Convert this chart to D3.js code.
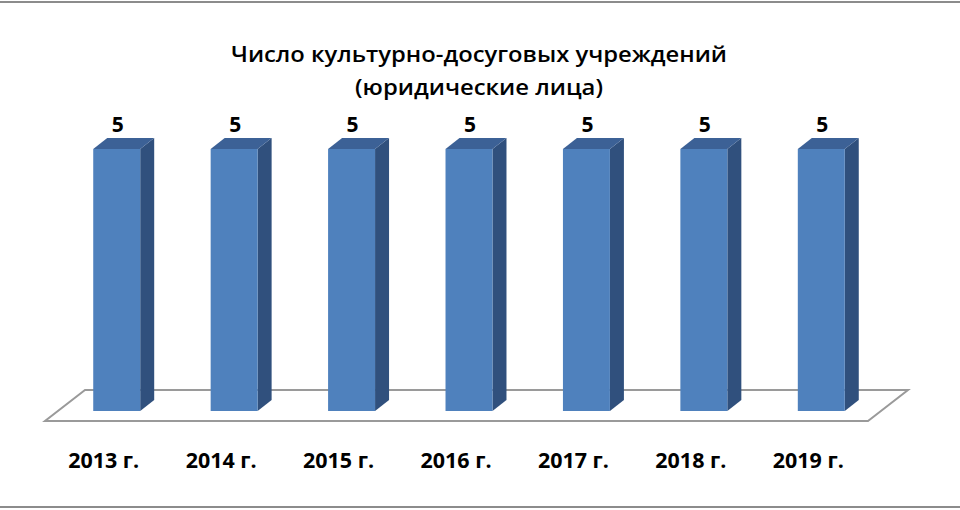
<!DOCTYPE html>
<html><head><meta charset="utf-8">
<script src="https://cdn.jsdelivr.net/npm/d3@7/dist/d3.min.js"></script>
<style>body{margin:0;background:#fff}svg{display:block}</style>
</head><body>
<svg id="c" width="960" height="510"></svg>
<script>
const categories = ["2013 г.","2014 г.","2015 г.","2016 г.","2017 г.","2018 г.","2019 г."];
const values = [5,5,5,5,5,5,5];
const titleLines = ["Число культурно-досуговых учреждений","(юридические лица)"];

const svg = d3.select("#c");
const W = 960, H = 510;
const dx = 14, dy = 11;

// frame lines
svg.append("line").attr("x1",0).attr("x2",W).attr("y1",2).attr("y2",2).attr("stroke","#8c8c8c").attr("stroke-width",2);
svg.append("line").attr("x1",0).attr("x2",W).attr("y1",507).attr("y2",507).attr("stroke","#8c8c8c").attr("stroke-width",2);

const x = d3.scaleBand().domain(categories).range([58, 880]).paddingInner(0.6).paddingOuter(0.3);
const y = d3.scaleLinear().domain([0,5]).range([411,149]);

// floor
const fl = 45, fr = 868, fy = 421, dep = 40, dh = 31;
svg.append("path")
  .attr("d", `M${fl},${fy} L${fr},${fy} L${fr+dep},${fy-dh} L${fl+dep},${fy-dh} Z`)
  .attr("fill","#fff").attr("stroke","#9a9a9a").attr("stroke-width",2);

const font = "'Open Sans', sans-serif";
const g = svg.append("g");
categories.forEach((c,i)=>{
  const x0 = x(c), bw = x.bandwidth(), yt = y(values[i]), yb = y(0);
  g.append("path").attr("d",`M${x0+bw},${yt} L${x0+bw+dx},${yt-dy} L${x0+bw+dx},${yb-dy} L${x0+bw},${yb} Z`).attr("fill","#30507d");
  g.append("path").attr("d",`M${x0},${yt} L${x0+dx},${yt-dy} L${x0+bw+dx},${yt-dy} L${x0+bw},${yt} Z`).attr("fill","#3c6196");
  g.append("rect").attr("x",x0).attr("y",yt).attr("width",bw).attr("height",yb-yt).attr("fill","#4f81bd");
  g.append("text").attr("x",x0+bw/2+1).attr("y",yt-dy-6).attr("text-anchor","middle")
    .attr("font-family",font).attr("font-weight","bold").attr("font-size",21).attr("fill","#000").text(values[i]);
  g.append("text").attr("x",x0+bw/2-13).attr("y",468).attr("text-anchor","middle")
    .attr("font-family",font).attr("font-weight","bold").attr("font-size",21)
    .attr("textLength",71).attr("lengthAdjust","spacingAndGlyphs").attr("fill","#000").text(c);
});

const tl = [496, 248];
svg.selectAll("text.title").data(titleLines).enter().append("text").attr("class","title")
  .attr("x",479).attr("y",(d,i)=>62+i*33).attr("text-anchor","middle")
  .attr("font-family",font).attr("font-weight",600).attr("font-size",22)
  .attr("textLength",(d,i)=>tl[i]).attr("lengthAdjust","spacingAndGlyphs")
  .attr("fill","#000").text(d=>d);
</script>
</body></html>
